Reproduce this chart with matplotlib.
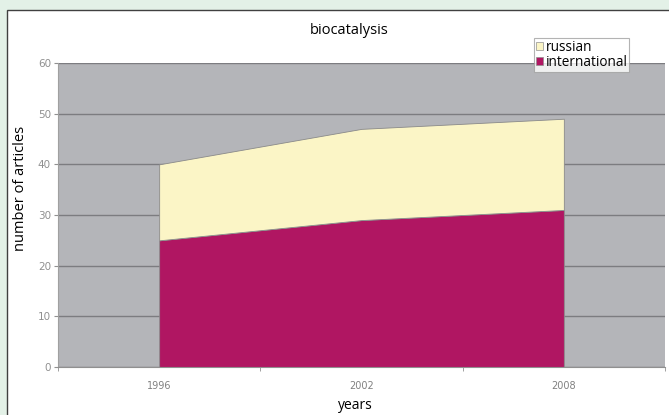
import matplotlib
matplotlib.use("Agg")
import matplotlib.pyplot as plt
from matplotlib.patches import Patch, Rectangle
import numpy as np

years = ["1996", "2002", "2008"]
international = [25, 29, 31]
russian = [15, 18, 18]
y_ticks = [0, 10, 20, 30, 40, 50, 60]

W, H = 669, 415
fig = plt.figure(figsize=(W / 100, H / 100), dpi=100)
fig.patch.set_facecolor("#e3f1e7")

# white inner panel with dark border
panel = Rectangle((7 / W, -0.01), 1, 1.01 - 10 / H, transform=fig.transFigure,
                  facecolor="white", edgecolor="#404040", linewidth=1.0, zorder=-10)
fig.patches.append(panel)

ax = fig.add_axes([58 / W, 1 - 367 / H, (665 - 58) / W, (367 - 63) / H])
ax.set_facecolor("#b4b5b9")

x = np.arange(len(years))
ax.stackplot(x, international, russian, colors=["#b01662", "#fbf5c6"],
             edgecolor="#8a8a8a", linewidth=0.6, zorder=2)

ax.set_xlim(-0.5, len(years) - 0.5)
ax.set_ylim(0, 60)
ax.set_yticks(y_ticks)
ax.yaxis.grid(True, color="#7c7c80", linewidth=1.0)
ax.set_axisbelow(True)

ax.set_xticks(x)
ax.set_xticklabels(years)
ax.set_xticks(np.arange(-0.5, len(years)), minor=True)
ax.tick_params(axis="x", which="major", length=0, pad=10, labelsize=7, labelcolor="#808080")
ax.tick_params(axis="x", which="minor", length=3, color="#909090")
ax.tick_params(axis="y", length=3, color="#909090", labelsize=7.5, labelcolor="#909090", pad=2)

for s in ["top", "right"]:
    ax.spines[s].set_visible(False)
ax.spines["left"].set_color("#a0a0a0")
ax.spines["bottom"].set_color("#909090")

# axis titles placed like in the original layout
fig.text(355 / W, 1 - 405 / H, "years", ha="center", va="center",
         fontsize=10, family="Open Sans")
fig.text(21 / W, 1 - 188 / H, "number of articles", ha="center", va="center",
         rotation=90, fontsize=10.5, family="Open Sans")
fig.text(349 / W, 1 - 30 / H, "biocatalysis", ha="center", va="center",
         fontsize=10.5, family="Open Sans")

handles = [Patch(facecolor="#fbf5c6", edgecolor="#909090", linewidth=0.5),
           Patch(facecolor="#b01662", edgecolor="#909090", linewidth=0.5)]
leg = fig.legend(handles, ["russian", "international"],
                 loc="upper left", bbox_to_anchor=(534 / W, 1 - 38 / H),
                 frameon=True, fancybox=False, edgecolor="#a0a0a0",
                 handlelength=0.5, handleheight=0.5, handletextpad=0.2,
                 borderpad=0.15, labelspacing=0.0, borderaxespad=0,
                 prop={"family": "Open Sans", "size": 9.8})
leg.get_frame().set_linewidth(0.8)
leg.set_zorder(10)

fig.savefig("out.png", dpi=100, facecolor=fig.get_facecolor())
